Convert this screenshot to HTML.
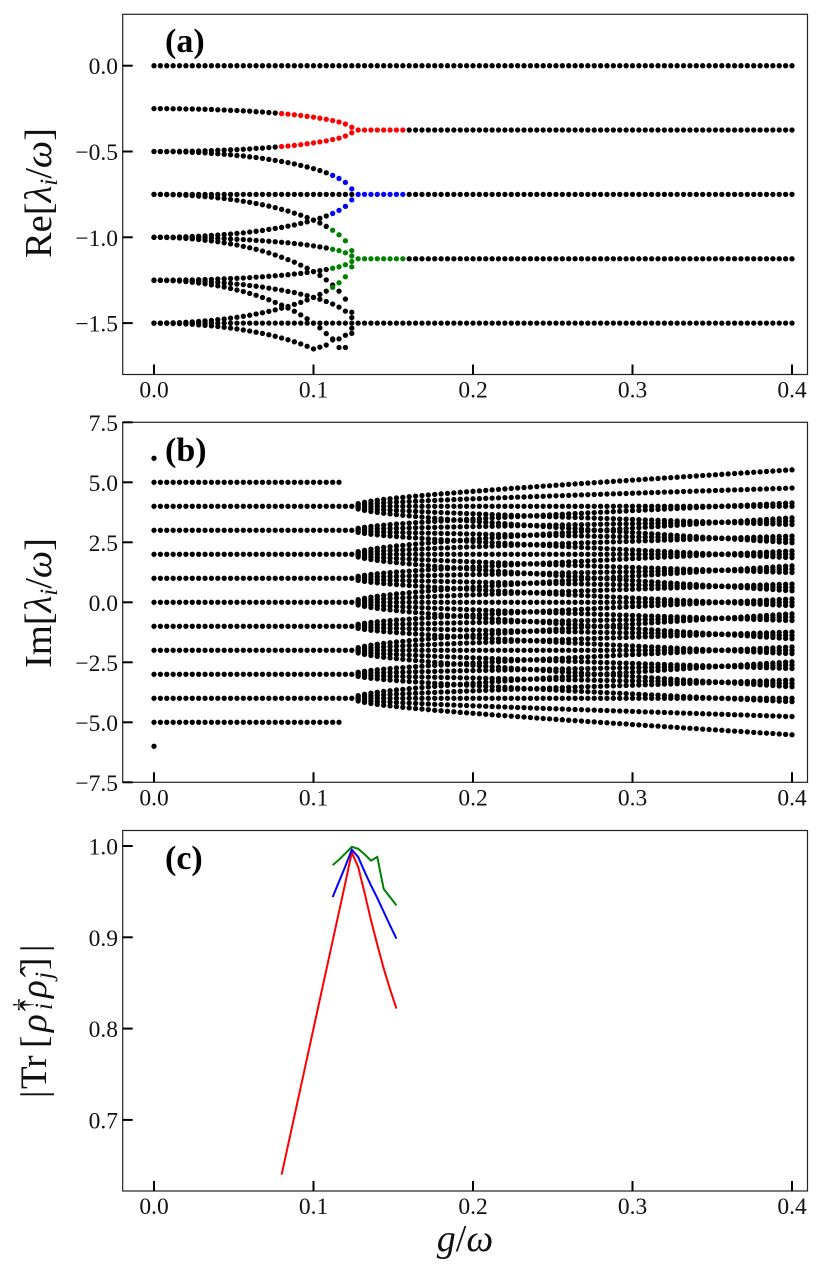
<!DOCTYPE html>
<html lang="en">
<head>
<meta charset="utf-8">
<title>Liouvillian spectrum versus coupling</title>
<style>
html,body{margin:0;padding:0;background:#fff;}
svg{display:block;font-family:"Liberation Serif","DejaVu Serif",serif;}
.tick-label{font-size:23.5px;fill:#111;}
.axis-title{fill:#111;}
.panel-tag{font-size:34px;font-weight:bold;fill:#000;}
</style>
</head>
<body>
<svg id="figure" xmlns="http://www.w3.org/2000/svg" width="822" height="1279" viewBox="0 0 822 1279">
  <rect x="0" y="0" width="822" height="1279" fill="#fff"/>
  <g id="panel-a"></g>
  <g id="panel-b"></g>
  <g id="panel-c"></g>

  <text class="axis-title" transform="translate(51,258) rotate(-90)" font-size="38.5">Re[<tspan font-style="italic">λ</tspan><tspan font-style="italic" font-size="25" dy="6">i</tspan><tspan dy="-6">/</tspan><tspan font-style="italic">ω</tspan>]</text>
  <text class="axis-title" transform="translate(51,668) rotate(-90)" font-size="38.5">Im[<tspan font-style="italic">λ</tspan><tspan font-style="italic" font-size="25" dy="6">i</tspan><tspan dy="-6">/</tspan><tspan font-style="italic">ω</tspan>]</text>
  <text class="axis-title" transform="translate(46,1098) rotate(-90)" font-size="37"><tspan x="0" y="0">|</tspan><tspan x="9" y="0">Tr</tspan><tspan x="50" y="0">[</tspan><tspan x="66" y="0" font-style="italic">ρ̂</tspan><tspan x="87" y="-15" font-size="25">†</tspan><tspan x="88" y="6" font-style="italic" font-size="25">i</tspan><tspan x="100" y="0" font-style="italic">ρ̂</tspan><tspan x="119" y="6" font-style="italic" font-size="25">j</tspan><tspan x="128" y="0">]</tspan><tspan x="146" y="0">|</tspan></text>
  <text class="axis-title" x="465" y="1251" text-anchor="middle" font-size="38"><tspan font-style="italic">g</tspan>/<tspan font-style="italic">ω</tspan></text>

  <text class="panel-tag" x="165" y="52">(a)</text>
  <text class="panel-tag" x="165" y="461">(b)</text>
  <text class="panel-tag" x="165" y="869">(c)</text>
</svg>
<script>
// ---------- shared coupling grid ----------
const gValues = [0,0.004,0.008,0.012,0.016,0.02,0.024,0.028,0.032,0.036,0.04,0.044,0.048,0.052,0.056,0.06,0.064,0.068,0.072,0.076,0.08,0.084,0.088,0.092,0.096,0.1,0.104,0.108,0.112,0.116,0.12,0.124,0.128,0.132,0.136,0.14,0.144,0.148,0.152,0.156,0.16,0.164,0.168,0.172,0.176,0.18,0.184,0.188,0.192,0.196,0.2,0.204,0.208,0.212,0.216,0.22,0.224,0.228,0.232,0.236,0.24,0.244,0.248,0.252,0.256,0.26,0.264,0.268,0.272,0.276,0.28,0.284,0.288,0.292,0.296,0.3,0.304,0.308,0.312,0.316,0.32,0.324,0.328,0.332,0.336,0.34,0.344,0.348,0.352,0.356,0.36,0.364,0.368,0.372,0.376,0.38,0.384,0.388,0.392,0.396,0.4];
const xTickValues = [0, 0.1, 0.2, 0.3, 0.4];
const xTickLabels = ["0.0", "0.1", "0.2", "0.3", "0.4"];

// ---------- panel (a): real parts ----------
const reTicks = [0, -0.5, -1, -1.5];
const reTickLabels = ["0.0", "−0.5", "−1.0", "−1.5"];
const reBlackFlat0 = [0,0,0,0,0,0,0,0,0,0,0,0,0,0,0,0,0,0,0,0,0,0,0,0,0,0,0,0,0,0,0,0];
const reRedUpper = [-0.25,-0.25,-0.25,-0.251,-0.251,-0.252,-0.252,-0.253,-0.254,-0.255,-0.257,-0.258,-0.26,-0.261,-0.263,-0.265,-0.268,-0.27,-0.273,-0.276,-0.279,-0.282,-0.286,-0.29,-0.295,-0.3,-0.306,-0.312,-0.32,-0.328,-0.34,-0.359];
const reRedLower = [-0.5,-0.5,-0.5,-0.499,-0.499,-0.498,-0.498,-0.497,-0.496,-0.495,-0.493,-0.492,-0.49,-0.489,-0.487,-0.485,-0.482,-0.48,-0.477,-0.474,-0.471,-0.468,-0.464,-0.46,-0.455,-0.45,-0.444,-0.438,-0.43,-0.422,-0.41,-0.391];
const reBlueUpper = [-0.5,-0.5,-0.501,-0.501,-0.502,-0.503,-0.505,-0.506,-0.508,-0.511,-0.513,-0.516,-0.519,-0.523,-0.526,-0.531,-0.535,-0.54,-0.546,-0.552,-0.558,-0.565,-0.572,-0.581,-0.59,-0.6,-0.611,-0.624,-0.639,-0.657,-0.68,-0.718];
const reBlueLower = [-1,-1,-0.999,-0.999,-0.998,-0.997,-0.995,-0.994,-0.992,-0.989,-0.987,-0.984,-0.981,-0.977,-0.974,-0.969,-0.965,-0.96,-0.954,-0.948,-0.942,-0.935,-0.928,-0.919,-0.91,-0.9,-0.889,-0.876,-0.861,-0.843,-0.82,-0.782];
const reBlackFlat1 = [-0.75,-0.75,-0.75,-0.75,-0.75,-0.75,-0.75,-0.75,-0.75,-0.75,-0.75,-0.75,-0.75,-0.75,-0.75,-0.75,-0.75,-0.75,-0.75,-0.75,-0.75,-0.75,-0.75,-0.75,-0.75,-0.75,-0.75,-0.75,-0.75,-0.75,-0.75,-0.75];
const reGreenA = [-0.75,-0.75,-0.751,-0.752,-0.753,-0.755,-0.757,-0.76,-0.763,-0.766,-0.77,-0.774,-0.779,-0.784,-0.79,-0.796,-0.803,-0.81,-0.818,-0.827,-0.837,-0.847,-0.859,-0.871,-0.885,-0.9,-0.917,-0.936,-0.959,-0.985,-1.02,-1.078];
const reGreenB = [-1,-1,-1,-1.001,-1.001,-1.002,-1.002,-1.003,-1.004,-1.005,-1.007,-1.008,-1.01,-1.011,-1.013,-1.015,-1.018,-1.02,-1.023,-1.026,-1.029,-1.032,-1.036,-1.04,-1.045,-1.05,-1.056,-1.062,-1.07,-1.078,-1.09,-1.109];
const reGreenC = [-1.25,-1.25,-1.25,-1.249,-1.249,-1.248,-1.248,-1.247,-1.246,-1.245,-1.243,-1.242,-1.24,-1.239,-1.237,-1.235,-1.232,-1.23,-1.227,-1.224,-1.221,-1.218,-1.214,-1.21,-1.205,-1.2,-1.194,-1.188,-1.18,-1.172,-1.16,-1.141];
const reGreenD = [-1.5,-1.5,-1.499,-1.498,-1.497,-1.495,-1.493,-1.49,-1.487,-1.484,-1.48,-1.476,-1.471,-1.466,-1.46,-1.454,-1.447,-1.44,-1.432,-1.423,-1.413,-1.403,-1.391,-1.379,-1.365,-1.35,-1.333,-1.314,-1.292,-1.265,-1.23,-1.172];
const reBlackDownA = [-1,-1,-1.001,-1.002,-1.004,-1.006,-1.009,-1.013,-1.017,-1.021,-1.026,-1.032,-1.038,-1.045,-1.053,-1.061,-1.07,-1.08,-1.091,-1.103,-1.116,-1.13,-1.145,-1.162,-1.18,-1.2,-1.222,-1.248,-1.278,-1.314,-1.36,-1.437];
const reBlackDownB = [-1.25,-1.25,-1.251,-1.251,-1.252,-1.253,-1.255,-1.256,-1.258,-1.261,-1.263,-1.266,-1.269,-1.273,-1.276,-1.281,-1.285,-1.29,-1.296,-1.302,-1.308,-1.315,-1.322,-1.331,-1.34,-1.35,-1.361,-1.374,-1.389,-1.407,-1.43,-1.468];
const reBlackDownC = [-1.25,-1.251,-1.252,-1.253,-1.255,-1.258,-1.262,-1.266,-1.271,-1.277,-1.283,-1.29,-1.298,-1.307,-1.316,-1.327,-1.338,-1.351,-1.364,-1.379,-1.395,-1.412,-1.431,-1.452,-1.475,-1.5,-1.528,-1.561,-1.598,-1.642,-1.642,-1.56];
const reBlackDownD = [-1.5,-1.5,-1.501,-1.502,-1.503,-1.505,-1.507,-1.51,-1.513,-1.516,-1.52,-1.524,-1.529,-1.534,-1.54,-1.546,-1.553,-1.56,-1.568,-1.577,-1.587,-1.597,-1.609,-1.621,-1.635,-1.65,-1.64,-1.628,-1.592,-1.592,-1.571,-1.53];
const reBlackFlat2 = [-1.5,-1.5,-1.5,-1.5,-1.5,-1.5,-1.5,-1.5,-1.5,-1.5,-1.5,-1.5,-1.5,-1.5,-1.5,-1.5,-1.5,-1.5,-1.5,-1.5,-1.5,-1.5,-1.5,-1.5,-1.5,-1.5,-1.5,-1.5,-1.5,-1.5,-1.5,-1.5];
const reSettledLevels = [0, -0.375, -0.75, -1.125, -1.5];
const reSettledColors = ["#000", "#f00", "#00f", "#008000", "#000"];

// ---------- panel (b): imaginary parts ----------
const imTicks = [7.5, 5, 2.5, 0, -2.5, -5, -7.5];
const imTickLabels = ["7.5", "5.0", "2.5", "0.0", "−2.5", "−5.0", "−7.5"];
const imLevels = [-4, -3, -2, -1, 0, 1, 2, 3, 4];
const imLevelMaxSplit = [4, 3, 4, 3, 4, 3, 4, 3, 4];
const imBeat = [0.028,0.042,0.054,0.063,0.072,0.079,0.087,0.093,0.1,0.106,0.112,0.118,0.124,0.13,0.135,0.14,0.146,0.151,0.156,0.161,0.166,0.171,0.176,0.181,0.186,0.191,0.195,0.2,0.205,0.21,0.214,0.219,0.223,0.228,0.233,0.237,0.242,0.246,0.251,0.255,0.26,0.264,0.268,0.273,0.277,0.282,0.286,0.29,0.295,0.299,0.303,0.308,0.312,0.316,0.321,0.325,0.329,0.333,0.338,0.342,0.346,0.35,0.355,0.359,0.363,0.367,0.372,0.376,0.38];
const imEarlyLevels = [-4, -3, -2, -1, 0, 1, 2, 3, 4];
const imOuterLevels = [-5, 5];
const imIsolatedLevels = [-6, 6];

// ---------- panel (c): overlaps ----------
const overlapTicks = [1, 0.9, 0.8, 0.7];
const overlapTickLabels = ["1.0", "0.9", "0.8", "0.7"];
const overlapRedG = [0.08,0.084,0.088,0.092,0.096,0.1,0.104,0.108,0.112,0.116,0.12,0.124,0.128,0.132,0.136,0.14,0.144,0.148,0.152];
const overlapRed = [0.64,0.672,0.704,0.736,0.768,0.8,0.832,0.864,0.896,0.928,0.96,0.993,0.977,0.949,0.919,0.892,0.866,0.843,0.822];
const overlapPairG = [0.112,0.116,0.12,0.124,0.128,0.132,0.136,0.14,0.144,0.148,0.152];
const overlapBlue = [0.944,0.961,0.978,0.996,0.988,0.972,0.957,0.943,0.928,0.913,0.8985];
const overlapGreen = [0.979,0.985,0.992,0.999,0.997,0.991,0.984,0.988,0.953,0.944,0.935];

// ---------- axis functions ----------
const SVGNS = "http://www.w3.org/2000/svg";
function xScale(g) { return 154 + 1595 * g; }
function yScaleA(v) { return 65.7 - 171.6 * v; }
function yScaleB(v) { return 602.3 - 24 * v; }
function yScaleC(v) { return 846 + (1 - v) * 913; }

function make(tag, parent, attrs) {
  const el = document.createElementNS(SVGNS, tag);
  for (const k in attrs) el.setAttribute(k, attrs[k]);
  parent.appendChild(el);
  return el;
}
function dot(parent, g, y, color) {
  const c = make("circle", parent, { cx: xScale(g).toFixed(2), cy: y.toFixed(2), r: 2.65, fill: color });
  
  
}
function frame(parent, top, bottom, yTicks, yLabels, yScale) {
  const left = 122.7, right = 807.5;
  const box = make("rect", parent, { x: left, y: top, width: right - left, height: bottom - top, fill: "none", stroke: "#222", "stroke-width": 1.2 });
  
  
  xTickValues.forEach(function (t, i) {
    const x = xScale(t);
    const tk = make("line", parent, { x1: x, x2: x, y1: bottom, y2: bottom - 10, stroke: "#000", "stroke-width": 2 });
    
    
    const lb = make("text", parent, { x: x, y: bottom + 23, "text-anchor": "middle", class: "tick-label" });
    
    
    lb.textContent = xTickLabels[i];
  });
  yTicks.forEach(function (t, i) {
    const y = yScale(t);
    const tk = make("line", parent, { x1: left, x2: left + 10, y1: y, y2: y, stroke: "#000", "stroke-width": 2 });
    
    
    const lb = make("text", parent, { x: 118, y: y + 8.5, "text-anchor": "end", class: "tick-label" });
    
    
    lb.textContent = yLabels[i];
  });
}

// ---------- panel (a) drawing ----------
const panelA = document.getElementById("panel-a");
frame(panelA, 14.3, 374.5, reTicks, reTickLabels, yScaleA);
function drawBranch(arr, colorStart, color) {
  arr.forEach(function (v, i) {
    dot(panelA, gValues[i], yScaleA(v), i >= colorStart ? color : "#000");
  });
}
[reBlackFlat0, reBlackFlat1, reBlackFlat2, reBlackDownA, reBlackDownB, reBlackDownC, reBlackDownD].forEach(function (b) { drawBranch(b, 99, "#000"); });
[reRedUpper, reRedLower].forEach(function (b) { drawBranch(b, 20, "#f00"); });
[reBlueUpper, reBlueLower].forEach(function (b) { drawBranch(b, 28, "#00f"); });
[reGreenA, reGreenB, reGreenC, reGreenD].forEach(function (b) { drawBranch(b, 28, "#008000"); });
reSettledLevels.forEach(function (level, k) {
  for (let i = reBlackFlat0.length; i < gValues.length; i++) {
    dot(panelA, gValues[i], yScaleA(level), i <= 39 ? reSettledColors[k] : "#000");
  }
});

// ---------- panel (b) drawing ----------
const panelB = document.getElementById("panel-b");
frame(panelB, 422.3, 782.3, imTicks, imTickLabels, yScaleB);
imIsolatedLevels.forEach(function (n) { dot(panelB, gValues[0], yScaleB(n), "#000"); });
imOuterLevels.forEach(function (n) {
  for (let i = 0; i < 30; i++) dot(panelB, gValues[i], yScaleB(n), "#000");
});
imEarlyLevels.forEach(function (n) {
  for (let i = 0; i < 32; i++) dot(panelB, gValues[i], yScaleB(n), "#000");
});
imBeat.forEach(function (s, j) {
  const g = gValues[32 + j];
  imLevels.forEach(function (n, l) {
    const mMax = imLevelMaxSplit[l];
    for (let m = -mMax; m <= mMax; m += 2) {
      dot(panelB, g, yScaleB(n + m * s), "#000");
    }
  });
});

// ---------- panel (c) drawing ----------
const panelC = document.getElementById("panel-c");
frame(panelC, 830.5, 1191, overlapTicks, overlapTickLabels, yScaleC);
function polyline(gs, vs, color, name) {
  const pts = vs.map(function (v, i) { return xScale(gs[i]).toFixed(2) + "," + yScaleC(v).toFixed(2); }).join(" ");
  const p = make("polyline", panelC, { points: pts, fill: "none", stroke: color, "stroke-width": 2, "stroke-linejoin": "miter" });
  
  
}
polyline(overlapRedG, overlapRed, "#f00", "overlap-line-red");
polyline(overlapPairG, overlapBlue, "#00f", "overlap-line-blue");
polyline(overlapPairG, overlapGreen, "#008000", "overlap-line-green");
</script>
</body>
</html>
